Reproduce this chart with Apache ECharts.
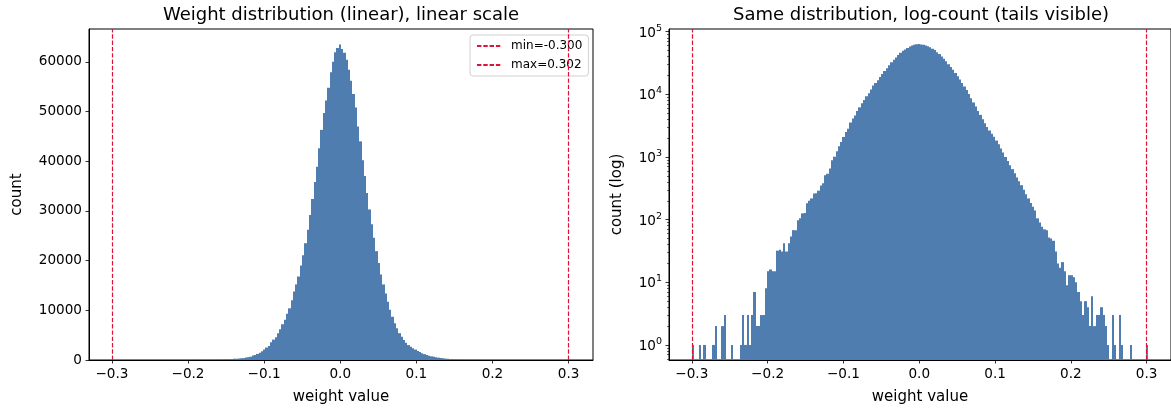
<!DOCTYPE html>
<html><head><meta charset="utf-8">
<script src="https://cdn.jsdelivr.net/npm/echarts@6/dist/echarts.min.js"></script>
<style>html,body{margin:0;padding:0;background:#fff}#c{width:1171px;height:410px}</style>
</head><body><div id="c"></div>
<script>
// ---- data ----
const binStart = -0.300;
const binWidth = 0.00301;
const counts = [
  1,0,0,1,0,1,0,0,0,1,
  2,0,0,2,3,0,0,1,0,0,
  0,1,3,1,3,1,3,7,2,2,
  3,3,8,15,16,15,15,32,33,31,
  42,31,42,54,68,68,98,105,126,128,
  183,200,218,262,265,290,352,380,510,540,
  655,890,1010,1230,1480,1740,2090,2510,2820,3550,
  4100,4600,5400,6200,7200,8100,9300,10400,12000,13800,
  15200,16800,19000,21100,23500,26200,29200,32400,35800,38900,
  42600,46300,49700,52200,54800,57900,60000,61900,62800,63500,
  62600,61800,60400,58400,56200,53500,50800,47000,44000,40200,
  37000,33600,30300,27300,24600,21900,19500,17200,15200,13400,
  11700,10100,8700,7400,6400,5400,4700,4000,3450,3000,
  2650,2350,2100,1830,1590,1370,1180,1000,860,740,
  640,550,470,410,355,300,255,218,185,160,
  140,105,90,77,70,68,52,50,46,31,
  20,17,21,15,9,13,13,12,10,7,
  5,3,5,4,2,6,2,3,3,4,
  3,2,1,0,3,1,0,3,1,0,
  0,0,1,0,0,0,0,0,0,1
];
const minVal = -0.300;
const maxVal = 0.302;
const xTicks = [-0.3,-0.2,-0.1,0.0,0.1,0.2,0.3];
const yTicksLinear = [0,10000,20000,30000,40000,50000,60000];
const yTicksLog = [1,10,100,1000,10000,100000];
const yMinorLog = [0.6,0.7,0.8,0.9,2,3,4,5,6,7,8,9,20,30,40,50,60,70,80,90,
  200,300,400,500,600,700,800,900,2000,3000,4000,5000,6000,7000,8000,9000,
  20000,30000,40000,50000,60000,70000,80000,90000];
const titles = ['Weight distribution (linear), linear scale','Same distribution, log-count (tails visible)'];

// ---- style ----
const FONT = 'DejaVu Sans';
const BAR = '#4f7db0';
const RED = '#dc143c';
const xMin = -0.3301, xMax = 0.3321;
const linMax = 66600;
const logMin = 0.575, logMax = 110400;

const binsAll = counts.map((c,i)=>[binStart+i*binWidth, binStart+(i+1)*binWidth, c]);
const binsLog = binsAll.filter(b=>b[2]>0);

function fmtX(v){ const s = Math.abs(v)<1e-9 ? '0.0' : v.toFixed(1); return s.replace('-', '\u2212'); }

// bars with pixel-snapped sides (like Agg's snapping of histogram rectangles)
function renderBar(params, api){
  const x0 = api.value(0), x1 = api.value(1), c = api.value(2);
  const p0 = api.coord([x0, c]);
  const p1 = api.coord([x1, c]);
  const cs = params.coordSys;
  const bottom = cs.y + cs.height;
  const l = Math.round(p0[0]), r = Math.round(p1[0]);
  return {type:'rect', shape:{x:l, y:p0[1], width:Math.max(r-l,1), height:bottom-p0[1]},
          style:{fill:BAR}};
}

const tickStyle = {color:'#000', width:0.8};
function xAxisDef(gi){
  return {gridIndex:gi, type:'value', min:xMin, max:xMax,
    axisLine:{show:true, onZero:false, lineStyle:{color:'#000', width:1}},
    axisTick:{show:true, length:3.5, inside:false, lineStyle:tickStyle, customValues:xTicks},
    axisLabel:{customValues:xTicks, formatter:fmtX, margin:7, color:'#000', fontSize:13.6, fontFamily:FONT},
    splitLine:{show:false},
    name:'weight value', nameLocation:'middle', nameGap:30,
    nameTextStyle:{fontSize:15, color:'#000', fontFamily:FONT}};
}

function lineSeries(name, val, xi, yi){
  return {type:'line', name:name, xAxisIndex:xi, yAxisIndex:yi, data:[], symbol:'none', z:5,
    lineStyle:{color:RED, width:1.2, type:[4.4,1.9]}, itemStyle:{color:RED},
    markLine:{silent:true, symbol:['none','none'], label:{show:false}, animation:false,
      lineStyle:{color:RED, width:1.2, type:[4.4,1.9]}, emphasis:{disabled:true},
      data:[{xAxis:val}]}};
}

const option = {
  animation:false,
  backgroundColor:'#fff',
  title:[
    {text:titles[0], left:341, top:0, textAlign:'center', padding:[6,0,0,0],
     textStyle:{fontSize:18, fontWeight:'normal', color:'#000', fontFamily:FONT}},
    {text:titles[1], left:921, top:0, textAlign:'center', padding:[6,0,0,0],
     textStyle:{fontSize:18, fontWeight:'normal', color:'#000', fontFamily:FONT}}
  ],
  legend:{show:true, orient:'vertical', left:470, top:35,
    data:['min='+minVal.toFixed(3), 'max='+maxVal.toFixed(3)],
    itemWidth:24, itemHeight:10, itemGap:7,
    borderColor:'#d0d0d0', borderWidth:1, borderRadius:3, padding:[5,6,5,6],
    backgroundColor:'rgba(255,255,255,0.8)',
    itemStyle:{color:'rgba(0,0,0,0)', borderColor:'rgba(0,0,0,0)', borderWidth:0},
    textStyle:{fontSize:12, color:'#000', fontFamily:FONT, padding:[0,0,0,5]}},
  grid:[
    {left:89, top:29, width:504, height:331, show:true, borderColor:'#000', borderWidth:1, backgroundColor:'rgba(0,0,0,0)'},
    {left:669, top:29, width:504, height:331, show:true, borderColor:'#000', borderWidth:1, backgroundColor:'rgba(0,0,0,0)'}
  ],
  xAxis:[xAxisDef(0), xAxisDef(1)],
  yAxis:[
    {gridIndex:0, type:'value', min:0, max:linMax, position:'left',
     axisLine:{show:true, onZero:false, lineStyle:{color:'#000', width:1}},
     axisTick:{show:true, length:3.5, lineStyle:tickStyle, customValues:yTicksLinear},
     axisLabel:{customValues:yTicksLinear, margin:7, color:'#000', fontSize:13.6, fontFamily:FONT, formatter:v=>String(v)},
     splitLine:{show:false},
     name:'count', nameLocation:'middle', nameGap:64, nameTextStyle:{fontSize:15, color:'#000', fontFamily:FONT}},
    {gridIndex:1, type:'log', logBase:10, min:logMin, max:logMax, position:'left',
     axisLine:{show:true, onZero:false, lineStyle:{color:'#000', width:1}},
     axisTick:{show:true, length:3.5, lineStyle:tickStyle, customValues:yTicksLog},
     axisLabel:{customValues:yTicksLog, margin:7, color:'#000',
       formatter:v=>'{b|10}{s|'+Math.round(Math.log10(v))+'}',
       rich:{b:{fontSize:13.6, color:'#000', fontFamily:FONT, verticalAlign:'bottom'},
             s:{fontSize:9.5, color:'#000', fontFamily:FONT, verticalAlign:'bottom', padding:[0,0,7,0]}}},
     splitLine:{show:false},
     name:'count (log)', nameLocation:'middle', nameGap:44, nameTextStyle:{fontSize:15, color:'#000', fontFamily:FONT}},
    {gridIndex:1, type:'log', logBase:10, min:logMin, max:logMax, position:'left', offset:0,
     axisLine:{show:false, onZero:false},
     axisTick:{show:true, length:2, lineStyle:{color:'#000', width:0.6}, customValues:yMinorLog},
     axisLabel:{show:false}, splitLine:{show:false}}
  ],
  series:[
    {type:'custom', name:'hist', xAxisIndex:0, yAxisIndex:0, data:binsAll, renderItem:renderBar,
     encode:{x:[0,1], y:2}, z:2, silent:true},
    {type:'custom', name:'histlog', xAxisIndex:1, yAxisIndex:1, data:binsLog, renderItem:renderBar,
     encode:{x:[0,1], y:2}, z:2, silent:true},
    lineSeries('min='+minVal.toFixed(3), minVal, 0, 0),
    lineSeries('max='+maxVal.toFixed(3), maxVal, 0, 0),
    lineSeries('min='+minVal.toFixed(3), minVal, 1, 1),
    lineSeries('max='+maxVal.toFixed(3), maxVal, 1, 1)
  ]
};
const chart = echarts.init(document.getElementById('c'), null, {renderer:'canvas'});
chart.setOption(option);
</script></body></html>
